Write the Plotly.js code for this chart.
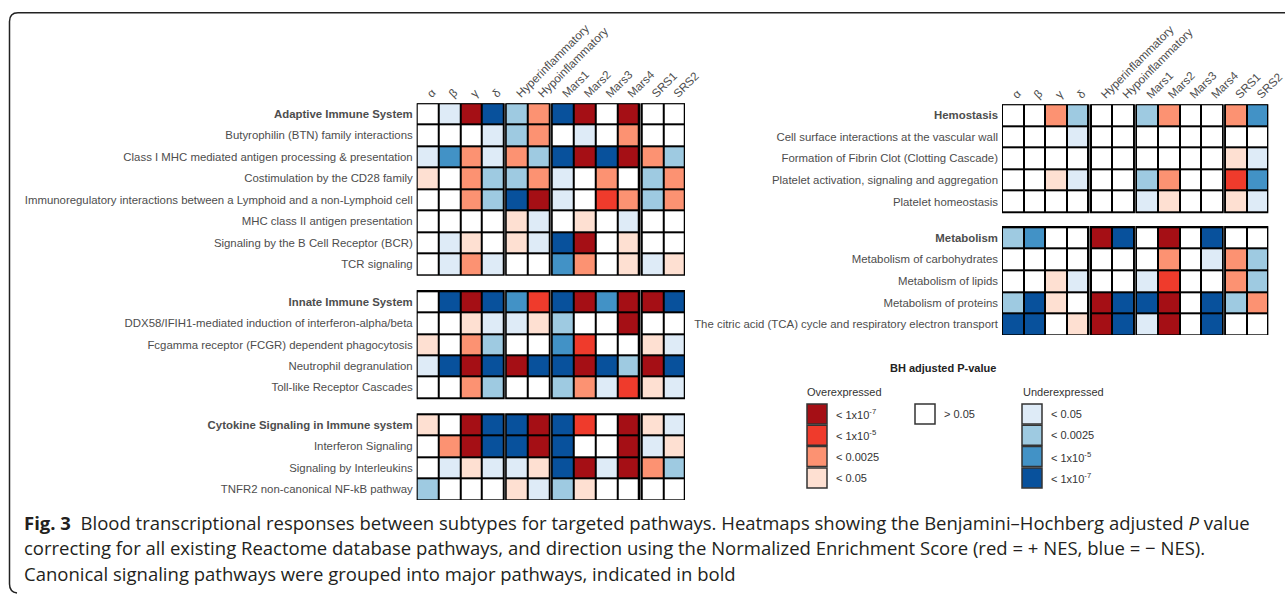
<!DOCTYPE html>
<html>
<head>
<meta charset="utf-8">
<script src="https://cdn.plot.ly/plotly-3.0.1.min.js"></script>
<style>html,body{margin:0;padding:0;background:#fff;}#chart{width:1285px;height:594px;}</style>
</head>
<body>
<div id="chart"></div>
<script>
// ---------- DATA ----------
// Levels: +4..+1 = overexpressed (<1e-7, <1e-5, <0.0025, <0.05), 0 = >0.05, -1..-4 = underexpressed
const columns = ['α','β','γ','δ','Hyperinflammatory','Hypoinflammatory','Mars1','Mars2','Mars3','Mars4','SRS1','SRS2'];
const columnGroups = [4, 2, 4, 2];

const adaptiveLabels = ['Adaptive Immune System','Butyrophilin (BTN) family interactions','Class I MHC mediated antigen processing & presentation','Costimulation by the CD28 family','Immunoregulatory interactions between a Lymphoid and a non-Lymphoid cell','MHC class II antigen presentation','Signaling by the B Cell Receptor (BCR)','TCR signaling'];
const adaptiveValues = [
  [0,-1, 4,-4, -2, 2, -4, 4, 0, 4, 0, 0],
  [0, 0, 0,-1, -2, 2,  0,-1, 0, 2, 0, 0],
  [-1,-3,2,-1,  2,-2, -4, 4,-4, 4, 2,-2],
  [1, 0, 2,-2, -2, 2, -1, 0, 2, 0,-2, 2],
  [0, 0, 2,-2, -4, 4, -1, 0, 3, 2,-2, 2],
  [0, 0, 0, 0,  1,-1,  0, 1, 0,-1, 0, 0],
  [0,-1, 1, 0,  1,-1, -4, 4, 0, 1, 0, 0],
  [0,-1, 2,-1,  0, 0, -3, 2, 0, 1,-1, 1]
];
const innateLabels = ['Innate Immune System','DDX58/IFIH1-mediated induction of interferon-alpha/beta','Fcgamma receptor (FCGR) dependent phagocytosis','Neutrophil degranulation','Toll-like Receptor Cascades'];
const innateValues = [
  [0,-4, 4,-4, -3, 3, -4, 4,-3, 4, 4,-4],
  [0, 0, 1,-1, -1, 1, -2, 0, 0, 4, 0, 0],
  [1, 0, 2,-2,  0, 0, -3, 3, 0, 0, 1,-1],
  [-1,-4,4,-4,  4,-4, -4, 4,-4,-2, 4,-4],
  [0, 0, 2,-2,  0, 0, -2, 2,-1, 3, 1,-1]
];
const cytokineLabels = ['Cytokine Signaling in Immune system','Interferon Signaling','Signaling by Interleukins','TNFR2 non-canonical NF-kB pathway'];
const cytokineValues = [
  [1, 0, 4,-4, -4, 4, -4, 3, 0, 4, 1,-1],
  [0, 2, 4,-4, -4, 4, -4, 0, 0, 4,-1, 1],
  [0,-1, 1,-1, -1, 1, -4, 4,-1, 4, 2,-2],
  [-2,0, 0, 0,  1,-1, -2, 1, 0, 0, 0, 0]
];
const hemostasisLabels = ['Hemostasis','Cell surface interactions at the vascular wall','Formation of Fibrin Clot (Clotting Cascade)','Platelet activation, signaling and aggregation','Platelet homeostasis'];
const hemostasisValues = [
  [0, 0, 2,-2, 0, 0, -2, 2, 0, 0, 2,-3],
  [0, 0, 0,-1, 0, 0,  0, 0, 0, 0, 0, 0],
  [0, 0, 0, 0, 0, 0,  0, 0, 0, 0, 1,-1],
  [0, 0, 1,-1, 0, 0, -2, 2, 0, 0, 3,-3],
  [0, 0, 0, 0, 0, 0, -1, 1, 0, 0, 1,-1]
];
const metabolismLabels = ['Metabolism','Metabolism of carbohydrates','Metabolism of lipids','Metabolism of proteins','The citric acid (TCA) cycle and respiratory electron transport'];
const metabolismValues = [
  [-2,-3,0, 0, 4,-4,  0, 4, 0,-4, 0, 0],
  [0, 0, 0, 0, 0, 0,  0, 2, 0,-1, 2,-2],
  [0, 0, 1,-1, 0, 0, -1, 3, 0, 0, 2,-2],
  [-2,-4,1, 0, 4,-4, -4, 4, 0,-4,-2, 2],
  [-4,-4,0, 1, 4,-4, -1, 4, 0,-4, 0, 0]
];
const levelColors = ['#08519c','#4292c6','#9ecae1','#deebf7','#ffffff','#fee0d2','#fc9272','#ef3b2c','#a50f15']; // -4..+4
const overLegend = [[4,'< 1x10<sup>-7</sup>'],[3,'< 1x10<sup>-5</sup>'],[2,'< 0.0025'],[1,'< 0.05']];
const underLegend = [[-1,'< 0.05'],[-2,'< 0.0025'],[-3,'< 1x10<sup>-5</sup>'],[-4,'< 1x10<sup>-7</sup>']];
const neutralLegend = [[0,'> 0.05']];
const captionLines = [
  '<b>Fig. 3</b>  Blood transcriptional responses between subtypes for targeted pathways. Heatmaps showing the Benjamini–Hochberg adjusted <i>P</i> value',
  'correcting for all existing Reactome database pathways, and direction using the Normalized Enrichment Score (red = + NES, blue = − NES).',
  'Canonical signaling pathways were grouped into major pathways, indicated in bold'
];

// ---------- BUILD ----------
const W = 1285, H = 594;
const px = v => v / W, py = v => 1 - v / H;
const FONT = 'Liberation Sans, Arial, sans-serif';
const LABEL_COLOR = '#4d4d4d';

const colorscale = [];
levelColors.forEach((c, i) => { colorscale.push([i / 9, c]); colorscale.push([(i + 1) / 9, c]); });

function buildPanel(blocks, gapX, gapY, xa, ya) {
  const xEdges = [0], colIdx = [], xTickVals = [], groupSpans = [];
  let ci = 0;
  columnGroups.forEach((g, gi) => {
    const start = xEdges[xEdges.length - 1];
    for (let k = 0; k < g; k++) {
      const a = xEdges[xEdges.length - 1];
      xEdges.push(a + 1); colIdx.push(ci++); xTickVals.push(a + 0.5);
    }
    groupSpans.push([start, xEdges[xEdges.length - 1]]);
    if (gi < columnGroups.length - 1) { xEdges.push(xEdges[xEdges.length - 1] + gapX); colIdx.push(-1); }
  });
  const yEdges = [0], rowVals = [], yTickVals = [], yTickText = [], blockSpans = [];
  blocks.forEach((b, bi) => {
    const start = yEdges[yEdges.length - 1];
    b.labels.forEach((lab, ri) => {
      const a = yEdges[yEdges.length - 1];
      yEdges.push(a + 1); rowVals.push(b.values[ri]); yTickVals.push(a + 0.5);
      yTickText.push(ri === 0 ? '<b>' + lab + '</b>' : lab);
    });
    blockSpans.push([start, yEdges[yEdges.length - 1]]);
    if (bi < blocks.length - 1) { yEdges.push(yEdges[yEdges.length - 1] + gapY); rowVals.push(null); }
  });
  const z = rowVals.map(r => colIdx.map(c => (r === null || c < 0) ? null : r[c]));
  const trace = {
    type: 'heatmap', x: xEdges, y: yEdges, z: z, xaxis: xa, yaxis: ya,
    colorscale: colorscale, zmin: -4.5, zmax: 4.5, showscale: false,
    xgap: 2, ygap: 2, hoverongaps: false
  };
  const shapes = [];
  blockSpans.forEach(bs => groupSpans.forEach(gs => {
    shapes.push({type: 'rect', xref: xa, yref: ya, x0: gs[0], x1: gs[1], y0: bs[0], y1: bs[1],
      layer: 'below', fillcolor: '#000', line: {color: '#000', width: 2}});
  }));
  return {trace, shapes, xTickVals, yTickVals, yTickText, xMax: xEdges[xEdges.length - 1], yMax: yEdges[yEdges.length - 1]};
}

const left = buildPanel([
  {labels: adaptiveLabels, values: adaptiveValues},
  {labels: innateLabels, values: innateValues},
  {labels: cytokineLabels, values: cytokineValues}
], 0.11, 0.75, 'x', 'y');
const right = buildPanel([
  {labels: hemostasisLabels, values: hemostasisValues},
  {labels: metabolismLabels, values: metabolismValues}
], 0.11, 0.68, 'x2', 'y2');

function xAxis(p, domain, anchor) {
  return {domain: domain, anchor: anchor, side: 'top', range: [0, p.xMax], tickmode: 'array',
    tickvals: p.xTickVals, ticktext: columns, tickangle: -45, ticks: '', showgrid: false,
    zeroline: false, showline: false, fixedrange: true, automargin: false, ticklabeloverflow: 'allow',
    tickfont: {family: FONT, size: 11.6, color: LABEL_COLOR}};
}
function yAxis(p, domain, anchor) {
  return {domain: domain, anchor: anchor, range: [p.yMax, 0], tickmode: 'array',
    tickvals: p.yTickVals, ticktext: p.yTickText, ticks: '', showgrid: false, zeroline: false,
    showline: false, fixedrange: true, automargin: false, ticklabelstandoff: 3, ticklabeloverflow: 'allow',
    tickfont: {family: FONT, size: 11.4, color: LABEL_COLOR}};
}

const shapes = [...left.shapes, ...right.shapes];
const annotations = [];

// legend
annotations.push({xref: 'paper', yref: 'paper', x: px(943), y: py(368), text: '<b>BH adjusted P-value</b>',
  showarrow: false, xanchor: 'center', yanchor: 'middle', font: {family: FONT, size: 11, color: '#222'}});
annotations.push({xref: 'paper', yref: 'paper', x: px(805), y: py(392), text: 'Overexpressed',
  showarrow: false, xanchor: 'left', yanchor: 'middle', font: {family: FONT, size: 11, color: '#333'}});
annotations.push({xref: 'paper', yref: 'paper', x: px(1021), y: py(392), text: 'Underexpressed',
  showarrow: false, xanchor: 'left', yanchor: 'middle', font: {family: FONT, size: 11, color: '#333'}});
function legendColumn(items, bx) {
  items.forEach((it, i) => {
    const top = 404 + i * 21.3;
    shapes.push({type: 'rect', xref: 'paper', yref: 'paper', x0: px(bx), x1: px(bx + 20), y0: py(top), y1: py(top + 20),
      fillcolor: levelColors[it[0] + 4], line: {color: '#333', width: 1.5}});
    annotations.push({xref: 'paper', yref: 'paper', x: px(bx + 27), y: py(top + 10), text: it[1],
      showarrow: false, xanchor: 'left', yanchor: 'middle', font: {family: FONT, size: 11, color: '#333'}});
  });
}
legendColumn(overLegend, 807);
legendColumn(neutralLegend, 915);
legendColumn(underLegend, 1022);

// caption
captionLines.forEach((t, i) => {
  annotations.push({xref: 'paper', yref: 'paper', x: px(22), y: py(522 + i * 25.5), text: t, showarrow: false,
    xanchor: 'left', yanchor: 'middle', font: {family: 'Open Sans, Noto Sans, sans-serif', size: 18.5, color: '#231f20'}});
});

// frame
shapes.push({type: 'path', xref: 'paper', yref: 'paper',
  path: `M ${px(1285)} ${py(12.7)} L ${px(18)} ${py(12.7)} Q ${px(9.5)} ${py(12.7)} ${px(9.5)} ${py(21.5)} L ${px(9.5)} ${py(584)} Q ${px(9.5)} ${py(592)} ${px(17)} ${py(593)}`,
  line: {color: '#222', width: 1.5}});

const layout = {
  width: W, height: H, margin: {l: 0, r: 0, t: 0, b: 0}, paper_bgcolor: '#fff', plot_bgcolor: 'rgba(0,0,0,0)',
  showlegend: false,
  xaxis: xAxis(left, [px(416.7), px(685)], 'y'),
  yaxis: yAxis(left, [py(500), py(103.3)], 'x'),
  xaxis2: xAxis(right, [px(1002), px(1268.3)], 'y2'),
  yaxis2: yAxis(right, [py(335), py(104.3)], 'x2'),
  shapes: shapes, annotations: annotations
};
Plotly.newPlot('chart', [left.trace, right.trace], layout, {staticPlot: true, displayModeBar: false});
</script>
</body>
</html>
